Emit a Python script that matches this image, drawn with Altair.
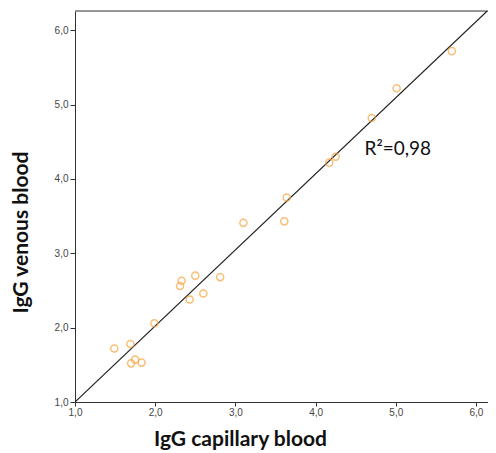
import altair as alt
import pandas as pd

# Data (IgG capillary vs venous blood)
capillary = [1.49, 1.69, 1.70, 1.75, 1.83, 1.99, 2.31, 2.33, 2.50, 2.43, 2.60, 2.81,
             3.10, 3.64, 3.61, 4.17, 4.25, 4.70, 5.01, 5.70]
venous = [1.72, 1.78, 1.52, 1.57, 1.53, 2.06, 2.56, 2.63, 2.70, 2.38, 2.46, 2.68,
          3.41, 3.75, 3.43, 4.22, 4.30, 4.82, 5.22, 5.72]

fit_x = [1.0, 6.14]
fit_y = [1.0, 6.26]

r2_label = ["R\u00b2=0,98"]
r2_x = [4.61]
r2_y = [4.32]

x_domain = [1.0, 6.15]
y_domain = [1.0, 6.26]
ticks = [1.0, 2.0, 3.0, 4.0, 5.0, 6.0]

W, H = 413, 391

pts = pd.DataFrame({"cap": capillary, "ven": venous})
fit = pd.DataFrame({"cap": fit_x, "ven": fit_y})
lab = pd.DataFrame({"cap": r2_x, "ven": r2_y, "t": r2_label})

label_expr = "replace(format(datum.value, '.1f'), '.', ',')"

xs = alt.Scale(domain=x_domain, nice=False, zero=False)
ys = alt.Scale(domain=y_domain, nice=False, zero=False)

x_axis = alt.Axis(
    values=ticks, labelExpr=label_expr, grid=False,
    title="IgG capillary blood", titleFont="Lato", titleFontSize=21, titleFontWeight="bold",
    titleColor="#111111", titleX=165, titleY=43, titleAlign="center", titleBaseline="alphabetic",
    labelFont="Liberation Sans", labelFontSize=10, labelColor="#444444", labelPadding=1,
    tickSize=4, tickColor="#333333", domainColor="#333333", labelFlush=False,
)
y_axis = alt.Axis(
    values=ticks, labelExpr=label_expr, grid=False,
    title="IgG venous blood", titleFont="Lato", titleFontSize=21, titleFontWeight="bold",
    titleColor="#111111", titleX=-48, titleY=221, titleAlign="center", titleBaseline="alphabetic",
    titleAngle=270,
    labelFont="Liberation Sans", labelFontSize=10, labelColor="#444444", labelPadding=2,
    tickSize=5, tickColor="#333333", domainColor="#333333", labelFlush=False,
)

points = alt.Chart(pts).mark_point(
    shape="circle", filled=False, size=50, strokeWidth=1.5, color="#F7A43F", clip=True
).encode(
    x=alt.X("cap:Q", scale=xs, axis=x_axis),
    y=alt.Y("ven:Q", scale=ys, axis=y_axis),
)

line = alt.Chart(fit).mark_line(color="#222222", strokeWidth=1.2, clip=True).encode(
    x=alt.X("cap:Q", scale=xs),
    y=alt.Y("ven:Q", scale=ys),
)

text = alt.Chart(lab).mark_text(
    font="Lato", fontSize=19, color="#111111", align="left", baseline="alphabetic"
).encode(
    x=alt.X("cap:Q", scale=xs),
    y=alt.Y("ven:Q", scale=ys),
    text="t:N",
)

top = alt.Chart(lab).mark_rule(color="#7a7a7a", strokeWidth=1.3).encode(
    x=alt.value(0), x2=alt.value(W), y=alt.value(0)
)

chart = alt.layer(top, line, points, text).properties(
    width=W, height=H,
    autosize=alt.AutoSizeParams(type="none"),
    padding={"left": 67, "top": 3, "right": 0, "bottom": 50},
).configure_view(stroke=None).configure(background="white")

chart.save("out.html", embed_options={"renderer": "svg", "actions": False})
